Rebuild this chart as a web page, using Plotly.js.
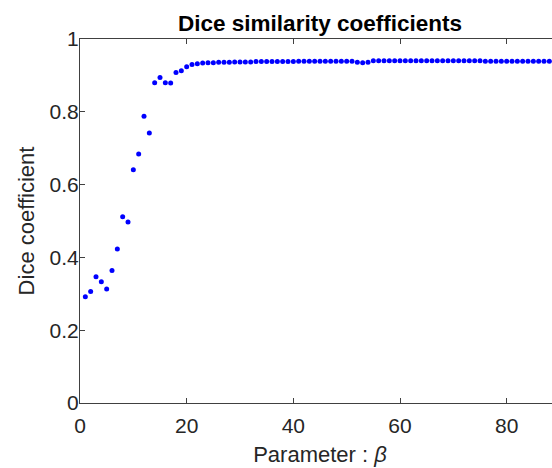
<!DOCTYPE html>
<html>
<head>
<meta charset="utf-8">
<script src="https://cdn.plot.ly/plotly-3.0.1.min.js"></script>
<style>
  html, body { margin: 0; padding: 0; overflow: hidden; background: #fff; }
  #chart { width: 600px; height: 468px; }
</style>
</head>
<body>
<div id="chart"></div>
<script>
const beta = [];
for (let i = 1; i <= 90; i++) beta.push(i);

const dice = [
  0.292, 0.306, 0.347, 0.333, 0.313, 0.364, 0.423, 0.512, 0.497, 0.641,
  0.684, 0.788, 0.742, 0.880, 0.894, 0.880, 0.879, 0.908, 0.913, 0.924,
  0.930, 0.932, 0.934, 0.935, 0.935, 0.936, 0.936, 0.936, 0.937, 0.937,
  0.937, 0.937, 0.938, 0.938, 0.938, 0.938, 0.938, 0.938, 0.938, 0.938,
  0.939, 0.939, 0.939, 0.939, 0.939, 0.939, 0.939, 0.939, 0.939, 0.939,
  0.939, 0.936, 0.935, 0.936, 0.940, 0.940, 0.940, 0.940, 0.940, 0.940,
  0.940, 0.940, 0.940, 0.940, 0.940, 0.940, 0.940, 0.940, 0.940, 0.940,
  0.940, 0.940, 0.940, 0.940, 0.940, 0.939, 0.939, 0.939, 0.939, 0.939,
  0.939, 0.939, 0.939, 0.939, 0.939, 0.939, 0.939, 0.939, 0.939, 0.939
];

const xTicks = [0, 20, 40, 60, 80];
const yTicks = [0, 0.2, 0.4, 0.6, 0.8, 1];

const FONT = 'Liberation Sans, Arial, Helvetica, sans-serif';
const AX = '#404040';

const trace = {
  x: beta,
  y: dice,
  type: 'scatter',
  mode: 'markers',
  marker: { color: '#0000ff', size: 5 },
  hoverinfo: 'skip'
};

const layout = {
  width: 600,
  height: 468,
  margin: { l: 80, r: 40, t: 39, b: 65, pad: 0 },
  paper_bgcolor: '#ffffff',
  plot_bgcolor: '#ffffff',
  showlegend: false,
  font: { family: FONT, color: '#262626', size: 21 },
  title: {
    text: '<b>Dice similarity coefficients</b>',
    font: { family: FONT, size: 22.5, color: '#000000' },
    xref: 'paper', x: 0.5, xanchor: 'center',
    yref: 'paper', y: 1, yanchor: 'bottom',
    pad: { b: 8 }
  },
  xaxis: {
    range: [0, 90],
    tickvals: xTicks,
    ticktext: xTicks.map(String),
    ticks: 'inside', ticklen: 5, tickwidth: 1, tickcolor: AX,
    showline: true, linecolor: AX, linewidth: 1, mirror: 'ticks',
    showgrid: false, zeroline: false,
    ticklabelstandoff: 4,
    tickfont: { family: FONT, size: 21, color: '#262626' },
    title: { text: 'Parameter : <i>β</i>', font: { family: FONT, size: 22, color: '#262626' }, standoff: 10 }
  },
  yaxis: {
    range: [0, 1],
    tickvals: yTicks,
    ticktext: yTicks.map(v => String(v)),
    ticks: 'inside', ticklen: 5, tickwidth: 1, tickcolor: AX,
    showline: true, linecolor: AX, linewidth: 1, mirror: 'ticks',
    showgrid: false, zeroline: false,
    ticklabelstandoff: -4,
    tickfont: { family: FONT, size: 21, color: '#262626' },
    title: { text: 'Dice coefficient', font: { family: FONT, size: 22, color: '#262626' }, standoff: 8 }
  }
};

Plotly.newPlot('chart', [trace], layout, { displayModeBar: false, staticPlot: true });
</script>
</body>
</html>
